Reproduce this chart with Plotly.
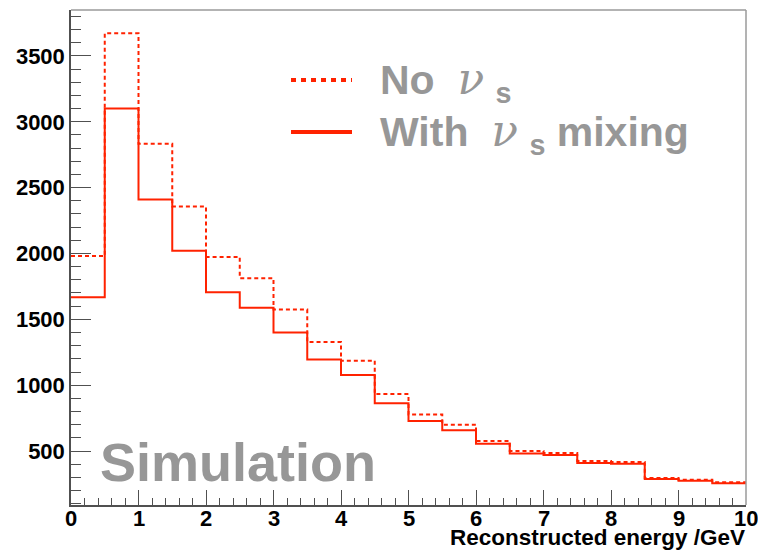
import plotly.graph_objects as go

# Reconstructed-energy histogram, 20 bins of 0.5 GeV
bin_edges = [0.0, 0.5, 1.0, 1.5, 2.0, 2.5, 3.0, 3.5, 4.0, 4.5, 5.0,
             5.5, 6.0, 6.5, 7.0, 7.5, 8.0, 8.5, 9.0, 9.5, 10.0]
no_sterile = [1980, 3672, 2833, 2356, 1974, 1812, 1574, 1328, 1186, 932,
              778, 700, 576, 500, 485, 424, 417, 295, 282, 262]
with_sterile = [1667, 3101, 2409, 2021, 1706, 1587, 1400, 1194, 1078, 862,
                727, 657, 556, 482, 470, 409, 404, 287, 275, 255]

x_tick_values = [0, 1, 2, 3, 4, 5, 6, 7, 8, 9, 10]
x_tick_labels = ["0", "1", "2", "3", "4", "5", "6", "7", "8", "9", "10"]

series_names = ["No", "With"]
simulation_label = "Simulation"
x_title = "Reconstructed energy /GeV"

RED = "#ff2200"
GRAY = "#979797"
AXIS = "#505050"

W, H = 758, 556
L, R, T, B = 71, 12, 10, 51
PW, PH = W - L - R, H - T - B


def px_x(p):
    return (p - L) / PW


def px_y(p):
    return (H - B - p) / PH


def step_xy(edges, counts):
    # "hv" steps: one point per lower edge plus the closing upper edge
    return list(edges), list(counts) + [counts[-1]]


fig = go.Figure()

xs, ys = step_xy(bin_edges, no_sterile)
fig.add_trace(go.Scatter(x=xs, y=ys, mode="lines", line_shape="hv",
                         line=dict(color=RED, width=2, dash="4px,3px"),
                         name=series_names[0], showlegend=False))
xs, ys = step_xy(bin_edges, with_sterile)
fig.add_trace(go.Scatter(x=xs, y=ys, mode="lines", line_shape="hv",
                         line=dict(color=RED, width=2),
                         name=series_names[1], showlegend=False))

nu = ("<span style='font-family:DejaVu Serif;font-size:44px;"
      "font-weight:normal'><i>ν</i></span>")
legend_rows = [
    (series_names[0] + "  " + nu + " <sub>s</sub>", 80, "5px,5px", 4),
    (series_names[1] + "  " + nu + " <sub>s</sub> mixing", 132, "solid", 4),
]
shapes = []
annotations = []
for text, yc, dash, lw in legend_rows:
    shapes.append(dict(type="line", xref="paper", yref="paper",
                       x0=px_x(291), x1=px_x(352), y0=px_y(yc), y1=px_y(yc),
                       line=dict(color=RED, width=lw, dash=dash)))
    annotations.append(dict(text=text, xref="paper", yref="paper",
                            x=px_x(378), y=px_y(yc + 1), xanchor="left",
                            yanchor="middle", showarrow=False,
                            font=dict(family="Liberation Sans", size=41,
                                      color=GRAY, weight="bold")))

annotations.append(dict(text=simulation_label, xref="paper", yref="paper",
                        x=px_x(98), y=px_y(462), xanchor="left",
                        yanchor="middle", showarrow=False,
                        font=dict(family="Liberation Sans", size=54,
                                  color=GRAY, weight="bold")))
annotations.append(dict(text=x_title, xref="paper", yref="paper",
                        x=1.0, y=px_y(537), xanchor="right",
                        yanchor="middle", showarrow=False, borderpad=0,
                        font=dict(family="Liberation Sans", size=22.5,
                                  color="black", weight="bold")))

# x tick labels sit close under the axis line
for v, lab in zip(x_tick_values, x_tick_labels):
    annotations.append(dict(text=lab, xref="x", yref="paper", x=v,
                            y=px_y(518), xanchor="center", yanchor="middle",
                            showarrow=False, borderpad=0,
                            font=dict(family="Liberation Sans", size=22,
                                      color="black", weight="bold")))

# light frame on the top and right sides
shapes.append(dict(type="line", xref="paper", yref="paper", x0=0, x1=1,
                   y0=1, y1=1, line=dict(color="#9a9a9a", width=1.5)))
shapes.append(dict(type="line", xref="paper", yref="paper", x0=1, x1=1,
                   y0=0, y1=1, line=dict(color="#9a9a9a", width=1.5)))

fig.update_layout(
    width=W, height=H,
    margin=dict(l=L, r=R, t=T, b=B, pad=0, autoexpand=False),
    paper_bgcolor="white", plot_bgcolor="white",
    font=dict(family="Liberation Sans", size=22, color="black", weight="bold"),
    shapes=shapes, annotations=annotations,
    xaxis=dict(range=[0, 10], tickvals=x_tick_values, showticklabels=False,
               ticks="inside", ticklen=15,
               tickwidth=1.2, tickcolor=AXIS, showline=True, linecolor=AXIS,
               linewidth=1.5, showgrid=False, zeroline=False,
               automargin=False,
               minor=dict(dtick=0.2, tick0=0, ticks="inside", ticklen=7.5,
                          tickcolor=AXIS, tickwidth=1.2, showgrid=False)),
    yaxis=dict(range=[90, 3849], tick0=0, dtick=500, ticks="inside",
               ticklen=20, tickwidth=1.2, tickcolor=AXIS, showline=True,
               linecolor=AXIS, linewidth=1.5, showgrid=False, zeroline=False,
               automargin=False, ticklabelstandoff=0,
               minor=dict(dtick=100, ticks="inside", ticklen=10,
                          tickcolor=AXIS, tickwidth=1.2, showgrid=False)),
)

fig.write_html("out.html")
